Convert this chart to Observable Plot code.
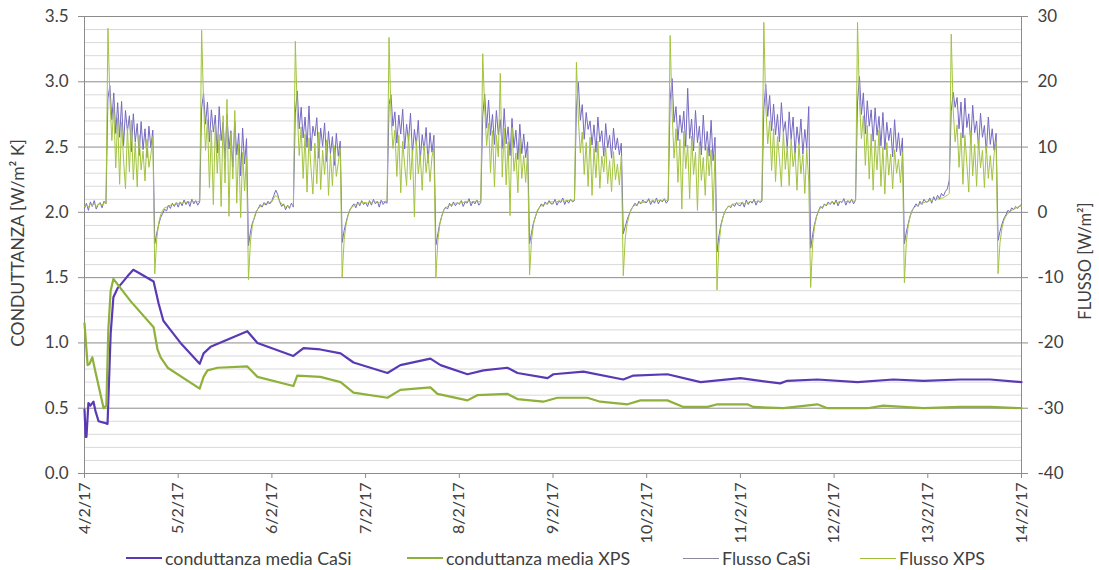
<!DOCTYPE html>
<html><head><meta charset="utf-8">
<script src="https://cdn.jsdelivr.net/npm/d3@7"></script>
<script src="https://cdn.jsdelivr.net/npm/@observablehq/plot@0.6"></script>
<style>
body{margin:0;background:#fff;font-family:Lato,"Noto Sans",sans-serif;}
#wrap{position:relative;width:1099px;height:570px;overflow:hidden;}
#legend{position:relative;height:22px;}
.leg{position:absolute;top:0px;height:20px;font-size:17.8px;color:#404040;display:flex;align-items:center;white-space:nowrap;}
.sw{display:inline-block;width:36px;margin-right:3px;}
</style></head><body><div id="wrap"><div id="chart"></div><div id="legend"></div></div>
<script>
// ---- dati ----
const serieNomi = ["conduttanza media CaSi", "conduttanza media XPS", "Flusso CaSi", "Flusso XPS"];
const etichettaSx = "CONDUTTANZA [W/m\u00B2 K]";
const etichettaDx = "FLUSSO [W/m\u00B2]";
const giorni = ["4/2/17","5/2/17","6/2/17","7/2/17","8/2/17","9/2/17","10/2/17","11/2/17","12/2/17","13/2/17","14/2/17"];
const tickSx = [0, 0.5, 1.0, 1.5, 2.0, 2.5, 3.0, 3.5];
const tickDx = [-40, -30, -20, -10, 0, 10, 20, 30];

// conduttanza media: [ore dall'inizio, W/m2K]
const condCaSi = [[0,0.49],[0.3,0.28],[0.5,0.28],[1.0,0.54],[1.5,0.52],[2.3,0.55],[2.8,0.48],[3.6,0.40],[4.9,0.39],[5.9,0.38],
 [6.7,1.07],[7.4,1.35],[8.5,1.42],[11.0,1.51],[12.5,1.56],[14.3,1.53],[17.7,1.47],[19.0,1.30],[20.2,1.17],[22.0,1.10],
 [24.6,1.00],[29.5,0.84],[30.5,0.92],[32.3,0.97],[41.7,1.09],[44.3,1.00],[53.5,0.90],[56.1,0.96],[60.4,0.95],[65.6,0.92],
 [68.9,0.85],[77.6,0.77],[80.9,0.83],[88.6,0.88],[91.2,0.83],[98.1,0.76],[102.2,0.79],[108.3,0.81],[110.9,0.77],[118.6,0.73],
 [120.1,0.76],[127.8,0.78],[138.0,0.72],[140.6,0.75],[149.3,0.76],[157.8,0.70],[168.0,0.73],[178.2,0.69],[180.0,0.71],[187.7,0.72],
 [198.0,0.70],[207.2,0.72],[214.9,0.71],[224.3,0.72],[232.0,0.72],[240,0.70]];
const condXPS = [[0,1.15],[0.8,0.83],[1.3,0.84],[2.0,0.89],[2.8,0.78],[4.9,0.50],[5.6,0.52],[6.1,1.10],[6.7,1.40],[7.4,1.49],
 [11.8,1.32],[17.7,1.12],[18.7,0.95],[19.5,0.89],[21.3,0.81],[29.5,0.65],[30.5,0.74],[31.5,0.79],[34.1,0.81],[41.7,0.82],
 [44.3,0.74],[53.5,0.67],[54.5,0.75],[60.4,0.74],[65.6,0.70],[68.9,0.62],[77.6,0.58],[80.9,0.64],[88.6,0.66],[90.4,0.61],
 [98.1,0.56],[100.6,0.60],[108.3,0.61],[110.9,0.57],[117.5,0.55],[121.1,0.58],[128.8,0.58],[132.1,0.55],[139.1,0.53],[142.4,0.56],
 [149.3,0.56],[153.4,0.51],[159.6,0.51],[162.1,0.53],[169.8,0.53],[171.3,0.51],[179.0,0.50],[187.7,0.53],[190.3,0.50],[200.5,0.50],
 [204.6,0.52],[214.9,0.50],[224.3,0.51],[232.0,0.51],[240,0.50]];

// flusso ogni 30 minuti, un array per giorno (W/m2)
const flussoCaSi = [
 [0.6,1.4,0.3,1.6,0.9,1.8,0.5,1.2,1.5,0.7,1.7,1.3, 17.5,19.4,14.2,18.3,12.1,16.8,11.5,17.0,10.2,15.6,12.4,14.8,9.3,15.1,10.8,13.6,8.7,13.9,9.6,12.8,8.4,13.2,9.9,12.6, -4.8,-3.2,-1.9,-0.8,-0.2,0.5,0.2,1.1,0.6,1.4,0.9,1.5],
 [0.8,1.6,1.0,1.9,1.2,1.7,0.9,2.0,1.3,1.8,1.1,1.6, 16.0,18.2,13.5,16.9,10.8,15.7,12.3,14.9,9.1,16.2,11.0,13.8,8.2,15.0,9.7,12.5,6.9,14.0,8.8,12.1,5.6,12.9,7.4,11.3, -5.1,-3.0,-1.6,-0.9,0.1,0.6,1.2,0.8,1.5,1.1,1.7,1.3],
 [1.8,2.6,3.4,2.7,1.6,0.9,1.3,0.4,1.1,0.6,1.4,0.8, 15.2,18.6,12.8,16.1,11.4,14.6,10.0,16.3,9.4,13.2,11.7,14.5,8.3,12.9,10.1,13.7,7.8,12.4,9.0,11.6,7.2,12.1,8.6,10.9, -4.6,-2.8,-1.5,-0.4,0.4,0.9,1.3,0.7,1.6,1.0,1.8,1.2],
 [1.5,0.9,1.8,1.1,2.0,1.3,1.7,0.8,1.9,1.2,1.6,1.4, 16.5,18.0,13.2,15.4,10.6,14.9,12.0,15.8,9.7,13.5,10.9,15.2,8.9,12.7,10.3,14.1,8.0,11.9,9.5,13.0,7.6,12.2,9.2,11.8, -5.0,-3.3,-1.7,-0.6,0.3,0.8,0.5,1.4,0.9,1.6,1.0,1.5],
 [1.2,1.8,0.9,1.6,1.4,2.1,1.0,1.7,1.3,1.9,1.1,1.5, 14.8,18.1,12.9,17.2,11.8,15.0,10.4,15.6,11.9,14.2,9.8,15.9,10.5,13.1,8.7,14.4,9.9,12.6,8.1,13.5,9.0,12.0,8.4,10.8, -4.8,-3.1,-1.6,-0.7,0.2,0.7,1.3,0.9,1.6,1.2,1.8,1.3],
 [1.3,2.0,1.1,1.7,1.5,2.2,1.2,1.9,1.4,2.0,1.6,1.8, 16.0,19.9,14.1,16.5,11.2,15.3,12.7,14.0,10.3,13.4,9.2,14.6,10.8,12.5,8.6,13.6,9.9,11.8,8.3,12.9,9.6,11.4,8.8,10.6, -3.3,-2.2,-1.1,-0.3,0.4,0.9,1.4,1.0,1.7,1.3,1.9,1.5],
 [1.5,2.1,1.2,1.8,1.4,2.2,1.3,1.9,1.6,2.1,1.4,1.8, 17.2,20.5,13.8,16.2,11.0,14.9,12.2,15.5,10.1,19.0,11.3,14.3,9.4,15.6,10.7,13.2,8.8,14.9,9.5,12.4,8.6,14.1,7.9,11.5, -6.1,-3.6,-1.9,-0.8,0.1,0.6,1.0,0.7,1.3,0.9,1.5,1.1],
 [1.0,1.6,0.8,1.9,1.2,1.7,1.4,2.0,1.1,1.8,1.5,1.7, 15.8,19.6,14.7,17.9,12.5,16.6,11.9,15.0,10.8,16.8,12.3,13.9,9.7,15.4,11.2,14.6,9.0,13.1,10.4,14.3,8.9,12.7,9.8,16.2, -5.5,-3.4,-1.8,-0.6,0.2,0.9,0.6,1.3,1.0,1.6,1.2,1.7],
 [1.2,1.9,1.0,1.7,1.5,2.1,1.1,1.8,1.4,2.0,1.3,1.9, 16.9,20.8,15.0,18.3,12.0,17.1,13.2,15.7,10.9,16.0,11.8,14.7,10.2,15.3,9.6,13.8,11.0,12.9,8.5,14.2,9.3,12.2,8.7,11.4, -4.8,-3.0,-1.7,-0.5,0.3,0.8,1.3,0.9,1.7,1.2,2.0,1.6],
 [1.6,2.2,1.4,2.4,1.8,2.6,2.1,2.9,2.5,3.2,3.6,4.9, 15.5,18.4,16.1,17.6,12.8,16.9,11.4,17.5,13.0,15.1,10.6,16.4,12.2,14.0,9.8,15.2,11.5,13.3,9.1,14.6,10.4,12.8,9.5,12.1, -4.3,-2.9,-1.8,-0.9,-0.4,0.3,0.1,0.7,0.4,0.9,0.6,1.0],
 [1.2]
];
const flussoXPS = [
 [0.9,1.1,0.8,1.3,1.0,1.4,0.9,1.2,1.3,1.1,1.5,1.4, 28.2,17.5,11.0,16.2,6.8,14.5,4.3,13.8,8.1,3.6,12.9,6.2,14.1,5.0,10.7,3.9,11.8,6.5,9.4,4.8,11.2,6.9,8.8,11.6, -9.4,-4.1,-1.6,-0.4,0.3,0.7,0.8,1.0,1.1,1.2,1.2,1.4],
 [1.3,1.5,1.4,1.6,1.5,1.7,1.5,1.8,1.6,1.7,1.6,1.8, 27.9,16.8,9.5,14.2,3.8,12.6,1.2,13.5,6.0,11.9,0.9,14.8,4.5,17.3,-0.6,12.2,5.1,15.6,1.4,10.5,-0.8,9.2,3.3,8.4, -10.3,-4.5,-2.0,-0.7,0.2,0.6,0.9,1.1,1.2,1.4,1.3,1.6],
 [1.6,2.2,2.6,2.3,1.7,1.3,1.1,0.8,1.0,0.9,1.2,1.0, 26.2,15.4,8.7,13.1,5.2,12.0,3.1,11.4,6.9,2.8,10.6,4.4,12.3,3.5,9.5,5.8,11.1,2.6,8.9,4.1,10.2,5.5,7.6,9.8, -9.9,-4.2,-1.8,-0.5,0.4,0.8,1.0,1.2,1.3,1.4,1.5,1.5],
 [1.5,1.4,1.6,1.5,1.7,1.6,1.6,1.5,1.8,1.6,1.7,1.7, 26.8,14.9,9.8,12.6,5.5,11.8,3.0,10.9,7.2,4.1,12.1,5.0,9.6,-0.7,11.0,5.9,8.8,3.4,10.3,6.1,9.0,4.7,8.5,9.9, -10.0,-4.4,-1.9,-0.6,0.3,0.7,0.9,1.1,1.2,1.3,1.4,1.4],
 [1.4,1.6,1.5,1.7,1.6,1.8,1.5,1.7,1.6,1.8,1.6,1.7, 24.3,15.9,10.2,13.7,6.1,12.5,3.9,11.8,8.5,21.3,5.4,12.9,4.2,10.8,-0.5,13.0,6.3,9.1,3.0,11.4,5.2,8.7,4.6,9.4, -9.6,-4.3,-1.8,-0.6,0.3,0.8,1.0,1.2,1.3,1.4,1.5,1.6],
 [1.6,1.7,1.6,1.8,1.7,1.9,1.7,1.8,1.8,1.9,1.8,1.9, 23.0,14.2,9.1,12.3,5.8,10.7,4.0,11.5,2.6,9.8,5.3,10.9,3.7,8.6,6.2,10.1,4.4,7.9,3.2,9.3,5.0,7.4,4.2,8.6, -9.7,-4.0,-1.7,-0.5,0.4,0.9,1.1,1.2,1.4,1.5,1.5,1.6],
 [1.7,1.8,1.6,1.9,1.7,1.9,1.8,1.9,1.8,2.0,1.8,1.9, 27.1,15.5,8.3,12.8,4.6,11.2,0.5,12.4,6.7,10.3,2.1,11.7,5.8,9.2,0.3,10.8,4.9,8.4,2.6,10.0,5.6,9.6,0.2,8.9, -11.9,-5.0,-2.2,-0.8,0.1,0.6,0.9,1.0,1.2,1.3,1.4,1.4],
 [1.4,1.5,1.3,1.6,1.5,1.7,1.6,1.8,1.6,1.7,1.7,1.8, 29.1,16.2,10.5,14.0,6.4,12.8,4.7,11.6,8.2,3.9,12.4,6.6,10.1,4.1,11.3,7.0,9.2,3.4,10.6,5.9,8.8,2.9,9.7,4.8, -11.5,-4.8,-2.1,-0.7,0.2,0.7,0.9,1.1,1.2,1.3,1.4,1.5],
 [1.5,1.6,1.5,1.7,1.6,1.8,1.6,1.7,1.7,1.8,1.7,1.8, 29.1,17.0,11.3,14.8,7.2,13.3,5.1,12.0,3.4,11.1,6.5,12.6,4.0,9.9,2.8,10.7,5.7,8.9,3.6,9.6,6.0,8.1,4.5,9.2, -10.8,-4.6,-2.0,-0.6,0.3,0.7,1.0,1.1,1.3,1.4,1.5,1.6],
 [1.7,1.8,1.8,2.0,1.9,2.1,2.0,2.2,2.2,2.5,2.6,2.9, 27.3,15.7,10.8,13.4,6.9,12.2,4.3,11.8,7.5,3.1,12.5,5.6,10.4,4.0,11.2,6.8,9.5,3.8,10.1,5.2,8.7,4.9,9.0,10.8, -9.4,-4.6,-2.4,-1.2,-0.6,-0.2,0.1,0.3,0.5,0.6,0.8,0.9],
 [1.0]
];

const colori = ["#5a3ab4", "#8fb03a", "#7569c2", "#a3c43e"];

// ---- costruzione ----
const H = 3600e3;
const t0 = Date.UTC(2017, 1, 4);
const dataDa = h => new Date(t0 + h * H);
const perGiorno = arr => arr.flatMap((g, k) => g.map((v, i) => ({t: dataDa(k * 24 + i * 0.5), v})));
const fCaSi = perGiorno(flussoCaSi);
const fXPS = perGiorno(flussoXPS);
const sx = f => 2 + f / 20; // asse destro -> asse sinistro
const dayTicks = giorni.map((g, k) => dataDa(k * 24));
const minori = d3.range(1, 35).filter(i => i % 5 !== 0).map(i => i / 10);

const chart = Plot.plot({
  width: 1099, height: 548,
  marginLeft: 84, marginRight: 78, marginTop: 16, marginBottom: 75,
  style: {fontFamily: "Lato, 'Noto Sans', sans-serif", fontSize: "17px", color: "#404040", background: "white"},
  x: {type: "utc", domain: [dataDa(0), dataDa(240)]},
  y: {domain: [0, 3.5]},
  marks: [
    Plot.ruleY(minori, {stroke: "#d9d9d9", strokeWidth: 1}),
    Plot.ruleY(tickSx, {stroke: "#8c8c8c", strokeWidth: 1}),
    Plot.ruleX([dataDa(0), dataDa(240)], {stroke: "#8c8c8c", strokeWidth: 1}),
    Plot.axisY({ticks: tickSx, tickFormat: d => d.toFixed(1), tickSize: 6, tickPadding: 10, stroke: "#8c8c8c", fill: "#404040", label: null, fontSize: 17}),
    Plot.axisY({anchor: "right", ticks: tickSx, tickFormat: d => String(tickDx[tickSx.indexOf(d)]), tickSize: 6, tickPadding: 10, stroke: "#8c8c8c", fill: "#404040", label: null, fontSize: 17}),
    Plot.axisX({ticks: dayTicks, tickFormat: d => giorni[dayTicks.findIndex(x => +x === +d)], tickRotate: -90, tickSize: 5, tickPadding: 4, stroke: "#8c8c8c", fill: "#404040", label: null, fontSize: 16}),
    Plot.text([etichettaSx], {frameAnchor: "left", dx: -66, dy: -2, rotate: -90, fontSize: 17.5, fill: "#404040", textAnchor: "middle"}),
    Plot.text([etichettaDx], {frameAnchor: "right", dx: 64, dy: 16, rotate: -90, fontSize: 16.5, fill: "#404040", textAnchor: "middle"}),
    Plot.line(condCaSi, {x: d => dataDa(d[0]), y: d => d[1], stroke: colori[0], strokeWidth: 2.2}),
    Plot.line(condXPS, {x: d => dataDa(d[0]), y: d => d[1], stroke: colori[1], strokeWidth: 2.2}),
    Plot.line(fCaSi, {x: "t", y: d => sx(d.v), stroke: colori[2], strokeWidth: 1}),
    Plot.line(fXPS, {x: "t", y: d => sx(d.v), stroke: colori[3], strokeWidth: 1})
  ]
});
chart.style.display = "block";
document.getElementById("chart").appendChild(chart);

// legenda
const legPos = [126, 407, 683, 860];
const legW = [2.5, 2.5, 1.2, 1.4];
const legCol = [colori[0], colori[1], "#8a8a9a", "#9fbf3a"];
const leg = document.getElementById("legend");
serieNomi.forEach((n, i) => {
  const d = document.createElement("div");
  d.className = "leg";
  d.style.left = legPos[i] + "px";
  d.innerHTML = `<span class="sw" style="border-top:${legW[i]}px solid ${legCol[i]}"></span><span>${n}</span>`;
  leg.appendChild(d);
});
</script></body></html>
